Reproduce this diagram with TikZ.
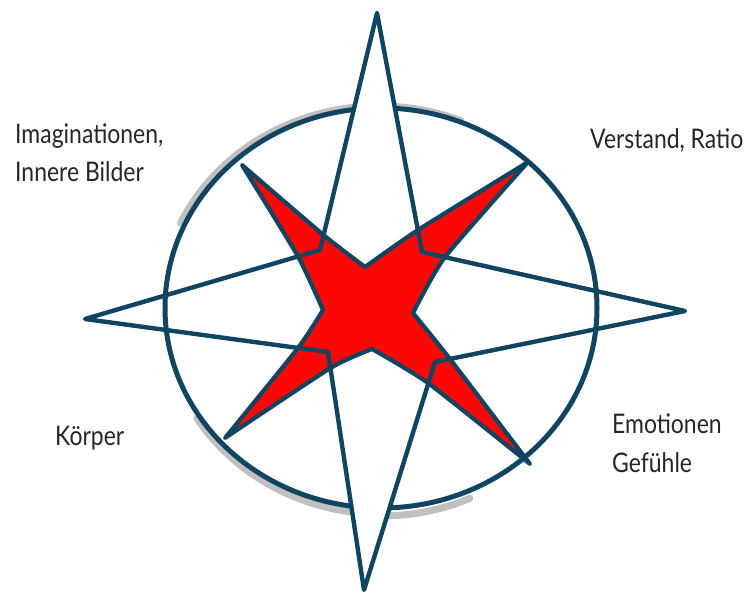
\documentclass[tikz,border=0pt]{standalone}
\usepackage{fontspec}
\newfontfamily\hand[FakeStretch=0.85]{Lato}
\definecolor{ink}{HTML}{0F4560}
\definecolor{redfill}{HTML}{FE0606}
\definecolor{shade}{HTML}{ABABAB}
\definecolor{txt}{HTML}{262626}
\begin{document}
\begin{tikzpicture}[x=1pt,y=-1pt, line join=round, line cap=round,
  inkline/.style={draw=ink, line width=4.4pt},
  shadowline/.style={draw=shade, line width=7pt, opacity=0.75},
  lbl/.style={anchor=base west, inner sep=0pt, font=\hand\fontsize{27}{31}\selectfont, text=txt}]
\useasboundingbox (0,0) rectangle (756,594);
% main points
\coordinate (O) at (381,308);
\coordinate (N) at (377,13);
\coordinate (E) at (685,311);
\coordinate (S) at (364,590);
\coordinate (W) at (85,319);
\coordinate (nw) at (320,250);
\coordinate (ne) at (422,252);
\coordinate (se) at (435,362);
\coordinate (sw) at (328,352);
% red cross
\coordinate (RNW) at (242,165);
\coordinate (RNE) at (528,162);
\coordinate (RSE) at (530,464);
\coordinate (RSW) at (225,438);
\coordinate (RT) at (365,267);
\coordinate (RR) at (413,313);
\coordinate (RB) at (372,349);
\coordinate (RL) at (323,310);
\coordinate (X1) at (323.5,235);
\coordinate (X2) at (298,256.5);
\coordinate (X3) at (418,230);
\coordinate (X4) at (445,257);
\coordinate (X5) at (450,359);
\coordinate (X6) at (428,383);
\coordinate (X7) at (330.5,368);
\coordinate (X8) at (298,348);
% shadow arcs
\draw[shadowline] ([shift={(205:219 and 203)}]379,309) arc[start angle=205, end angle=292, x radius=219, y radius=203];
\draw[shadowline] ([shift={(98:218 and 203)}]382,311) arc[start angle=98, end angle=148, x radius=218, y radius=203];
\draw[shadowline] ([shift={(66:218 and 203)}]381,313) arc[start angle=66, end angle=88, x radius=218, y radius=203];
% circle
\draw[ink, line width=5pt] (O) ellipse [x radius=216, y radius=200];
% white fill of north and south points
\fill[white] (N) -- (ne) -- (nw) -- cycle;
\fill[white] (S) -- (se) -- (sw) -- cycle;
% red cross
\path[fill=redfill, draw=ink, line width=4.2pt]
  (RNW) -- plot[smooth, tension=0.35] coordinates {(RNW) (X1) (RT)}
  -- plot[smooth, tension=0.35] coordinates {(RT) (X3) (RNE)}
  -- plot[smooth, tension=0.35] coordinates {(RNE) (X4) (RR)}
  -- plot[smooth, tension=0.35] coordinates {(RR) (X5) (RSE)}
  -- plot[smooth, tension=0.35] coordinates {(RSE) (X6) (RB)}
  -- plot[smooth, tension=0.35] coordinates {(RB) (X7) (RSW)}
  -- plot[smooth, tension=0.35] coordinates {(RSW) (X8) (RL)}
  -- plot[smooth, tension=0.35] coordinates {(RL) (X2) (RNW)} -- cycle;
% star outline
\draw[inkline] (N) -- (ne) -- (E) -- (se) -- (S) -- (sw) -- (W) -- (nw) -- cycle;
% labels
\node[lbl] (t1) at (15,143) {Imaginationen,};
\node[lbl] (t2) at (15,181) {Innere Bilder};
\node[lbl] (t3) at (590,148) {Verstand, Ratio};
\node[lbl] (t4) at (55,445) {Körper};
\node[lbl] (t5) at (612,433) {Emotionen};
\node[lbl] (t6) at (612,472) {Gefühle};
\end{tikzpicture}
\end{document}
